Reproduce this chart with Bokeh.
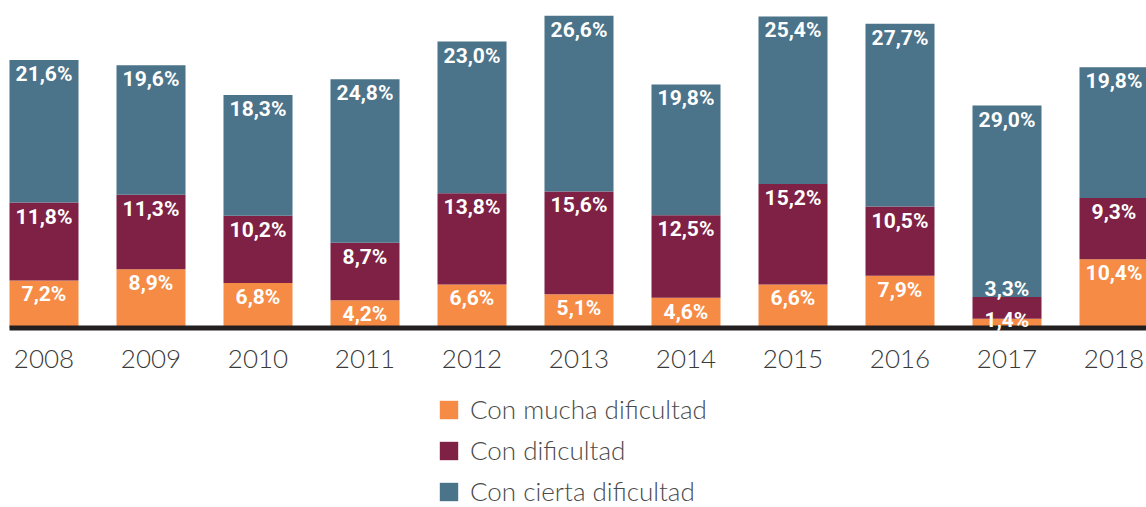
from bokeh.plotting import figure
from bokeh.models import Range1d, Legend, LegendItem, ColumnDataSource
from bokeh.core.properties import value
from bokeh.embed import file_html
from bokeh.resources import INLINE

years = ["2008", "2009", "2010", "2011", "2012", "2013", "2014", "2015", "2016", "2017", "2018"]
mucha = [7.2, 8.9, 6.8, 4.2, 6.6, 5.1, 4.6, 6.6, 7.9, 1.4, 10.4]
dificultad = [11.8, 11.3, 10.2, 8.7, 13.8, 15.6, 12.5, 15.2, 10.5, 3.3, 9.3]
cierta = [21.6, 19.6, 18.3, 24.8, 23.0, 26.6, 19.8, 25.4, 27.7, 29.0, 19.8]
series_names = ["Con mucha dificultad", "Con dificultad", "Con cierta dificultad"]
colors = ["#F68B45", "#7E2144", "#4B7389"]

idx = list(range(len(years)))
src = ColumnDataSource(dict(x=idx, mucha=mucha, dificultad=dificultad, cierta=cierta))

W, H = 1146, 507
px_per_unit = 107.0
x_start = -43.5 / px_per_unit
x_end = x_start + W / px_per_unit
y_scale = 6.6
zero_px = 327.5
y_start = -(H - zero_px) / y_scale
y_end = y_start + H / y_scale

p = figure(width=W, height=H, output_backend="svg", toolbar_location=None,
           x_range=Range1d(x_start, x_end), y_range=Range1d(y_start, y_end),
           min_border=0, min_border_left=0, min_border_right=0, min_border_top=0, min_border_bottom=0)
p.outline_line_color = None
p.grid.visible = False
p.axis.visible = False
p.background_fill_color = "white"
p.border_fill_color = "white"

bar_w = 69 / px_per_unit
rs = p.vbar_stack(["mucha", "dificultad", "cierta"], x="x", width=bar_w, color=colors, source=src,
                  line_color=None)

# baseline (from first bar's left edge to the right edge)
p.segment(x0=[idx[0] - bar_w / 2], y0=[0], x1=[x_end], y1=[0], line_color="#231F20", line_width=5,
          line_cap="butt")

# value labels
lx, ly, lt, lo = [], [], [], []
for i in idx:
    base = 0.0
    for k, arr in enumerate([mucha, dificultad, cierta]):
        v = arr[i]
        top = base + v
        lx.append(i)
        ly.append(top)
        lt.append(f"{v:.1f}".replace(".", ",") + "%")
        if v >= 4:
            lo.append(14)
        elif k == 1:
            lo.append(-8)
        else:
            lo.append(1)
        base = top
lsrc = ColumnDataSource(dict(x=lx, y=ly, t=lt, o=lo))
p.text(x="x", y="y", text="t", y_offset="o", source=lsrc, text_color="white",
       text_font=value("Roboto"), text_font_style="bold", text_font_size="21px",
       text_align="center", text_baseline="middle")

# year labels
ysrc = ColumnDataSource(dict(x=idx, y=[0] * len(idx), t=years))
p.text(x="x", y="y", text="t", y_offset=31, source=ysrc, text_color="#3a3a3a",
       text_font=value("'Lato Light', Lato"), text_font_size="26px",
       text_align="center", text_baseline="middle")

legend = Legend(items=[LegendItem(label=n, renderers=[r]) for n, r in zip(series_names, rs)],
                orientation="vertical", location=(437, 0),
                glyph_width=23, glyph_height=23, label_height=23, spacing=9,
                label_standoff=10, padding=0, margin=0,
                label_text_font="'Lato Light', Lato", label_text_font_size="26px",
                label_text_color="#4a4a4a", border_line_color=None, background_fill_alpha=0)
p.add_layout(legend, "center")

open("out.html", "w").write(file_html(p, INLINE))
